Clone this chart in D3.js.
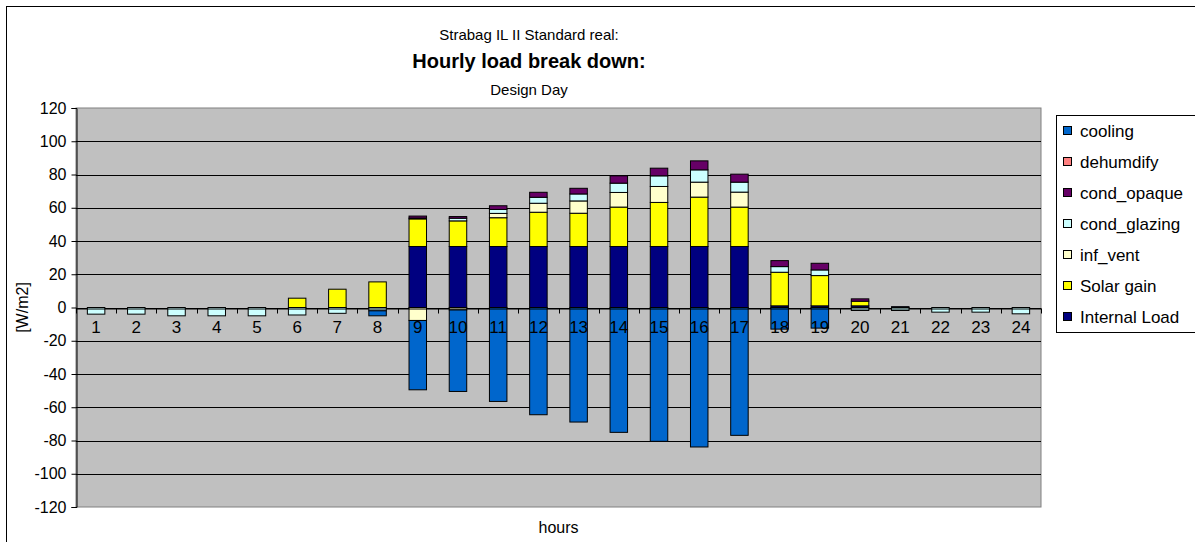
<!DOCTYPE html>
<html><head><meta charset="utf-8">
<script src="https://cdn.jsdelivr.net/npm/d3@7/dist/d3.min.js"></script>
<style>body{margin:0;background:#fff;font-family:"Liberation Sans",Arial,sans-serif}</style>
</head><body><svg id="c" width="1195" height="542"></svg>
<script>
const hours = ["1","2","3","4","5","6","7","8","9","10","11","12","13","14","15","16","17","18","19","20","21","22","23","24"];
const seriesNames = ["Internal Load","Solar gain","inf_vent","cond_glazing","cond_opaque","dehumdify","cooling"];
const seriesColors = ["#000080","#FFFF00","#FFFFCC","#CCFFFF","#660066","#FF8080","#0066CC"];
const internalLoad = [0,0,0,0,0,0,0,0,36.7,36.7,36.7,36.7,36.7,36.7,36.7,36.7,36.7,1,1,1,0.5,0,0,0];
const solarGain    = [0,0,0,0,0,5.6,11,15.4,16.6,15.4,17.3,20.6,20,23.7,26.5,29.7,23.7,20.2,18.2,2.8,0,0,0,0];
const infVent      = [0,0,0,0,0,0,0,0,-7.8,-1.5,2.6,5.4,7.4,8.8,9.6,9,9,0,0,0,0,0,0,0];
const condGlazing  = [-4,-4,-5,-5,-5,-4.5,-3.5,-2,0.5,1.6,2.4,3.6,4.2,5.6,6.4,7.4,6,3.4,3.4,-1.8,-1.8,-2.8,-2.8,-3.8];
const condOpaque   = [0,0,0,0,0,0,0,0,1.2,1,2.2,3,3.4,4.4,4.6,5.4,4.8,3.6,4,1.4,0,0,0,0];
const dehumdify    = [0,0,0,0,0,0,0,0,0,0,0,0,0,0,0,0,0,0,0,0,0,0,0,0];
const cooling      = [0,0,0,0,0,0,0,-3,-41.7,-49,-56.5,-64.5,-68.9,-75.1,-80.5,-83.9,-76.9,-13,-12.4,0,0,0,0,0];
const yTicks = [120,100,80,60,40,20,0,-20,-40,-60,-80,-100,-120];
const titleLines = ["Strabag IL II Standard real:","Hourly load break down:","Design Day"];

const seriesValues = [internalLoad,solarGain,infVent,condGlazing,condOpaque,dehumdify,cooling];
const rows = hours.map((h,i)=>{const r={hour:h}; seriesNames.forEach((n,k)=>r[n]=seriesValues[k][i]); return r;});

const svg = d3.select("#c");
const L=76, R=1041, T=108, B=507;
svg.append("rect").attr("x",6.5).attr("y",6.5).attr("width",1300).attr("height",600).attr("fill","#fff").attr("stroke","#000");

const x = d3.scaleBand().domain(hours).range([L,R]).paddingInner(0.565).paddingOuter(0.2825);
const y = d3.scaleLinear().domain([-120,120]).range([B,T]);

svg.append("rect").attr("x",L).attr("y",T).attr("width",R-L).attr("height",B-T).attr("fill","#C0C0C0").attr("stroke","#808080");

svg.append("g").selectAll("line").data(yTicks.filter(v=>v!==120&&v!==-120)).join("line")
  .attr("x1",L).attr("x2",R).attr("y1",d=>Math.round(y(d))+0.5).attr("y2",d=>Math.round(y(d))+0.5)
  .attr("stroke","#000").attr("stroke-width",1);

const stack = d3.stack().keys(seriesNames).offset(d3.stackOffsetDiverging);
const stacked = stack(rows);
const g = svg.append("g");
stacked.forEach((s,k)=>{
  g.append("g").selectAll("rect").data(s.filter(d=>d[1]!==d[0])).join("rect")
    .attr("x",d=>x(d.data.hour)).attr("width",x.bandwidth())
    .attr("y",d=>y(Math.max(d[0],d[1]))).attr("height",d=>Math.abs(y(d[0])-y(d[1])))
    .attr("fill",seriesColors[k]).attr("stroke","#000").attr("stroke-width",1);
});

const ya = svg.append("g").attr("transform",`translate(${L+0.5},0)`)
  .call(d3.axisLeft(y).tickValues(yTicks).tickSize(5).tickPadding(5).tickFormat(d=>String(d)));
ya.select(".domain").attr("stroke","#000");
ya.selectAll("text").attr("font-size",16).attr("font-family","Liberation Sans, Arial, sans-serif").attr("fill","#000");

const xa = svg.append("g").attr("transform",`translate(0,${Math.round(y(0))+0.5})`)
  .call(d3.axisBottom(x).tickSize(0).tickPadding(12));
xa.select(".domain").attr("stroke","#000");
xa.selectAll("text").attr("font-size",17).attr("font-family","Liberation Sans, Arial, sans-serif").attr("fill","#000");
xa.append("g").selectAll("line").data(d3.range(hours.length+1)).join("line")
  .attr("x1",i=>Math.round(L+i*(R-L)/hours.length)+0.5).attr("x2",i=>Math.round(L+i*(R-L)/hours.length)+0.5)
  .attr("y1",0).attr("y2",5).attr("stroke","#000");

const cx = 529;
svg.append("text").attr("x",cx).attr("y",40).attr("text-anchor","middle").attr("font-size",15).text(titleLines[0]);
svg.append("text").attr("x",cx).attr("y",68).attr("text-anchor","middle").attr("font-size",20).attr("font-weight","bold").text(titleLines[1]);
svg.append("text").attr("x",cx).attr("y",95).attr("text-anchor","middle").attr("font-size",15).text(titleLines[2]);

svg.append("text").attr("transform",`translate(28,${(T+B)/2}) rotate(-90)`).attr("text-anchor","middle").attr("font-size",16).text("[W/m2]");
svg.append("text").attr("x",(L+R)/2).attr("y",533).attr("text-anchor","middle").attr("font-size",16).text("hours");

const lg = svg.append("g");
lg.append("rect").attr("x",1056.5).attr("y",115.5).attr("width",200).attr("height",217).attr("fill","#fff").attr("stroke","#000");
const legendItems = seriesNames.map((n,k)=>({n,c:seriesColors[k]})).reverse();
legendItems.forEach((d,i)=>{
  const yy = 131 + i*31;
  lg.append("rect").attr("x",1063.5).attr("y",yy-4.5).attr("width",8).attr("height",8).attr("fill",d.c).attr("stroke","#000");
  lg.append("text").attr("x",1080).attr("y",yy+6).attr("font-size",17).text(d.n);
});
</script></body></html>
